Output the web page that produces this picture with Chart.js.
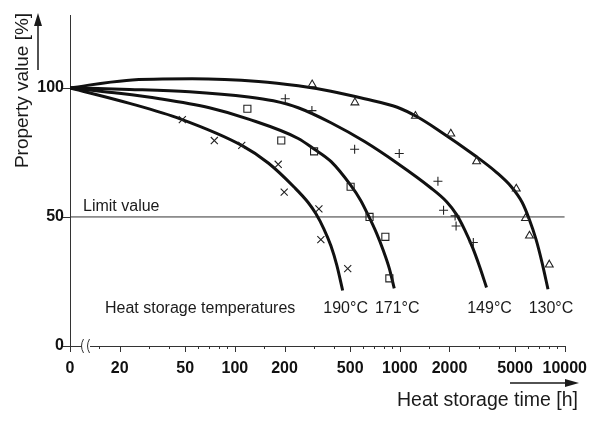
<!DOCTYPE html>
<html>
<head>
<meta charset="utf-8">
<title>Heat storage</title>
<script src="https://cdn.jsdelivr.net/npm/chart.js@4.4.1/dist/chart.umd.min.js"></script>
<style>
  html, body { margin: 0; padding: 0; background: #fff; }
  #wrap { width: 600px; height: 422px; }
</style>
</head>
<body>
<div id="wrap"><canvas id="myChart" width="600" height="422"></canvas></div>
<script>
// fitted curves: heat storage time [h] / property value [%]
const curveHours190 = [10, 23, 47, 110, 160, 229, 278, 310, 346, 382, 415, 450];
const curveValues190 = [100, 94, 87.9, 77.7, 70.8, 61.5, 55.6, 51.2, 45.4, 38.8, 31.2, 21.5];
const curveHours171 = [10, 18.6, 35, 70, 121, 242, 302, 382, 503, 578, 646, 721, 795, 864, 925];
const curveValues171 = [100, 98.1, 95.8, 92.3, 87.9, 80.4, 76.3, 71.5, 62.3, 56.5, 50.4, 43.8, 36.9, 30, 22.3];
const curveHours149 = [10, 23, 53, 121, 171, 242, 382, 611, 965, 1523, 1928, 2214, 2474, 2763, 3044, 3354];
const curveValues149 = [100, 99.4, 98.5, 96.5, 95, 92.3, 86.5, 79.2, 70.8, 61.5, 55.8, 50.8, 45, 38.1, 30.8, 22.7];
const curveHours130 = [10, 22, 55, 139, 242, 382, 611, 965, 1273, 1679, 2920, 3852, 4741, 5521, 6084, 6703, 7283, 7914];
const curveValues130 = [100, 102.9, 103.5, 102.5, 100.8, 98.7, 95.8, 92.5, 88.8, 84, 73.3, 67.3, 61.7, 55.6, 49.2, 41.2, 32.3, 22];

// measured points
const pointsHours190 = [48, 75, 110, 183, 199, 323, 332, 483];
const pointsValues190 = [87.7, 79.6, 77.7, 70.4, 59.6, 53.1, 41.2, 30];
const pointsHours171 = [119, 191, 302, 503, 655, 817, 864];
const pointsValues171 = [91.9, 79.6, 75.4, 61.7, 50, 42.3, 26.2];
const pointsHours149 = [202, 293, 532, 992, 1702, 1841, 2163, 2193, 2790];
const pointsValues149 = [95.8, 91.2, 76.2, 74.6, 63.8, 52.6, 50.4, 46.5, 40.1];
const pointsHours130 = [294, 534, 1243, 2038, 2920, 5082, 5780, 6109, 8057];
const pointsValues130 = [101.3, 94.3, 89.1, 82.2, 71.5, 60.9, 49.5, 42.7, 31.5];

const temperatures = ['190°C', '171°C', '149°C', '130°C'];
const limitValue = 50;

// axis ticks
const xTicks = [10, 15, 20, 30, 40, 50, 60, 70, 80, 90, 100, 150, 200, 300, 400, 500, 600, 700, 800, 900,
                1000, 1500, 2000, 3000, 4000, 5000, 6000, 7000, 8000, 9000, 10000];
const xLabelValues = [10, 20, 50, 100, 200, 500, 1000, 2000, 5000, 10000];
const xLabelTexts = ['0', '20', '50', '100', '200', '500', '1000', '2000', '5000', '10000'];
const yTicks = [0, 50, 100];

const FONT = '"Liberation Sans", Arial, sans-serif';
const INK = '#1a1a1a';

function toXY(hours, values) {
    return hours.map((h, i) => ({ x: h, y: values[i] }));
}

function curve(hours, values) {
    return {
        data: toXY(hours, values),
        borderColor: '#111',
        borderWidth: 3,
        pointRadius: 0,
        fill: false,
        cubicInterpolationMode: 'monotone',
        order: 2
    };
}

function marks(hours, values, style, radius) {
    return {
        data: toXY(hours, values),
        showLine: false,
        pointStyle: style,
        pointRadius: radius,
        pointBorderColor: '#222',
        pointBackgroundColor: 'rgba(0,0,0,0)',
        pointBorderWidth: 1.1,
        order: 1
    };
}

// axis titles, arrows, tick marks, break and the notes in the plot
const decorations = {
    id: 'decorations',
    afterDraw(chart) {
        const { ctx, chartArea, scales: { x, y } } = chart;
        const bottom = chartArea.bottom;
        ctx.save();
        ctx.strokeStyle = '#333';
        ctx.lineWidth = 1;

        xTicks.forEach(v => {
            const px = Math.round(x.getPixelForValue(v)) + 0.5;
            const len = xLabelValues.includes(v) ? 6 : 3;
            ctx.beginPath();
            ctx.moveTo(px, bottom);
            ctx.lineTo(px, bottom + len);
            ctx.stroke();
        });
        yTicks.forEach(v => {
            const py = Math.round(y.getPixelForValue(v)) + 0.5;
            ctx.beginPath();
            ctx.moveTo(chartArea.left - 7, py);
            ctx.lineTo(chartArea.left, py);
            ctx.stroke();
        });

        // axis break near the origin
        ctx.fillStyle = '#fff';
        ctx.fillRect(82, bottom - 3, 8, 6);
        ctx.beginPath();
        [82, 88].forEach(bx => {
            ctx.moveTo(bx + 1.5, bottom - 7);
            ctx.quadraticCurveTo(bx - 2.5, bottom, bx + 1.5, bottom + 7);
        });
        ctx.stroke();

        // arrows
        ctx.fillStyle = INK;
        ctx.strokeStyle = INK;
        ctx.lineWidth = 1.5;
        ctx.beginPath();
        ctx.moveTo(38, 70);
        ctx.lineTo(38, 22);
        ctx.moveTo(510, 383);
        ctx.lineTo(568, 383);
        ctx.stroke();
        ctx.beginPath();
        ctx.moveTo(38, 13);
        ctx.lineTo(34, 26);
        ctx.lineTo(42, 26);
        ctx.closePath();
        ctx.moveTo(579, 383);
        ctx.lineTo(565, 379);
        ctx.lineTo(565, 387);
        ctx.closePath();
        ctx.fill();

        // titles
        ctx.textBaseline = 'alphabetic';
        ctx.font = '19.5px ' + FONT;
        ctx.textAlign = 'right';
        ctx.fillText('Heat storage time [h]', 578, 406);

        ctx.save();
        ctx.translate(27.5, 90.5);
        ctx.rotate(-Math.PI / 2);
        ctx.textAlign = 'center';
        ctx.font = '19px ' + FONT;
        ctx.fillText('Property value [%]', 0, 0);
        ctx.restore();

        ctx.font = '16px ' + FONT;
        ctx.textAlign = 'left';
        ctx.fillText('Limit value', 83, 211);
        ctx.fillText('Heat storage temperatures', 105, 312.5);

        // temperature labels under the curve ends
        const ends = [curveHours190, curveHours171, curveHours149, curveHours130].map(h => h[h.length - 1]);
        ctx.textAlign = 'center';
        temperatures.forEach((t, i) => {
            ctx.fillText(t, x.getPixelForValue(ends[i]) + 3, 312.5);
        });
        ctx.restore();
    }
};

const ctx = document.getElementById('myChart').getContext('2d');
const myChart = new Chart(ctx, {
    type: 'line',
    data: {
        datasets: [
            marks(pointsHours190, pointsValues190, 'crossRot', 5),
            marks(pointsHours171, pointsValues171, 'rect', 5),
            marks(pointsHours149, pointsValues149, 'cross', 4.5),
            marks(pointsHours130, pointsValues130, 'triangle', 4.5),
            curve(curveHours190, curveValues190),
            curve(curveHours171, curveValues171),
            curve(curveHours149, curveValues149),
            curve(curveHours130, curveValues130),
            {
                data: [{ x: 10, y: limitValue }, { x: 10000, y: limitValue }],
                borderColor: '#333',
                borderWidth: 1,
                pointRadius: 0,
                order: 3
            }
        ]
    },
    options: {
        responsive: false,
        animation: false,
        devicePixelRatio: 1,
        layout: { padding: { top: 13, right: 31, left: 0, bottom: 0 } },
        plugins: { legend: { display: false }, tooltip: { enabled: false } },
        scales: {
            x: {
                type: 'logarithmic',
                min: 10,
                max: 10000,
                grid: { display: false, drawTicks: false },
                border: { display: true, color: '#333', width: 1 },
                afterBuildTicks: s => { s.ticks = xTicks.map(v => ({ value: v })); },
                afterFit: s => { s.height = 76; },
                ticks: {
                    autoSkip: false,
                    maxRotation: 0,
                    padding: 13,
                    color: '#111',
                    font: { family: FONT, size: 16, weight: 'bold' },
                    callback: v => {
                        const i = xLabelValues.indexOf(v);
                        return i >= 0 ? xLabelTexts[i] : '';
                    }
                }
            },
            y: {
                min: 0,
                max: 128,
                grid: { display: false, drawTicks: false },
                border: { display: true, color: '#333', width: 1 },
                afterBuildTicks: s => { s.ticks = yTicks.map(v => ({ value: v })); },
                afterFit: s => { s.width = 70; },
                ticks: {
                    padding: 6,
                    color: '#111',
                    font: { family: FONT, size: 16, weight: 'bold' }
                }
            }
        }
    },
    plugins: [decorations]
});
</script>
</body>
</html>
